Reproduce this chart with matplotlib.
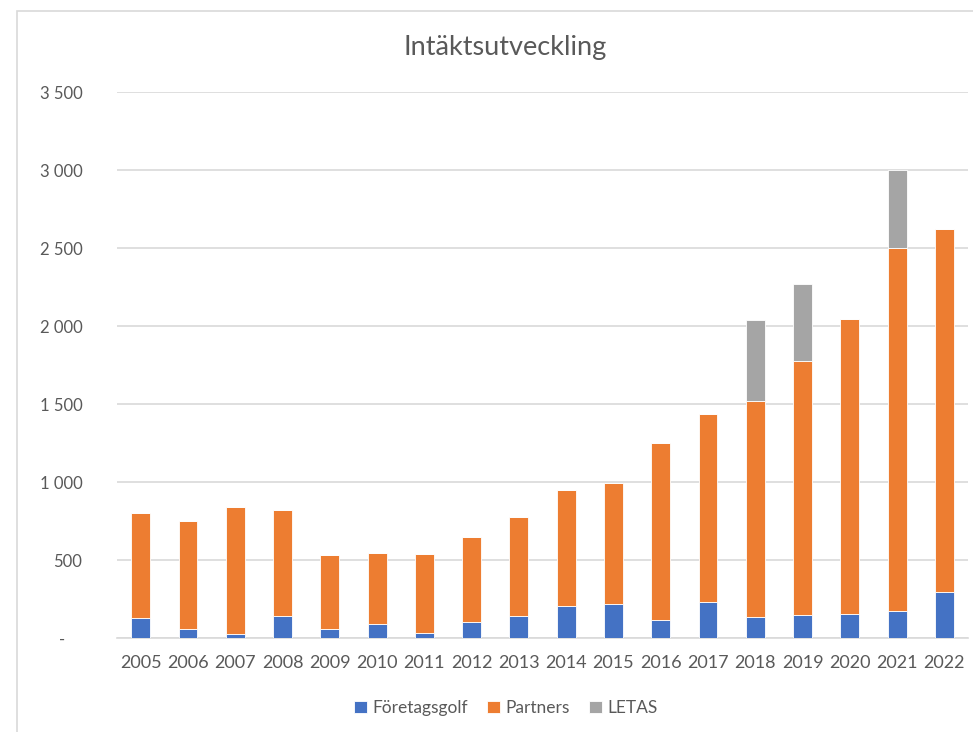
import matplotlib.pyplot as plt
from matplotlib.patches import Rectangle
import numpy as np

plt.rcParams['font.family'] = ['Lato', 'DejaVu Sans']

# Data
years = ['2005', '2006', '2007', '2008', '2009', '2010', '2011', '2012', '2013',
         '2014', '2015', '2016', '2017', '2018', '2019', '2020', '2021', '2022']
foretagsgolf = [126, 58, 26, 141, 58, 92, 32, 100, 141,
                205, 220, 113, 229, 133, 146, 154, 173, 295]
totals_fp = [799, 750, 838, 818, 530, 542, 536, 645, 776,
             947, 994, 1248, 1438, 1519, 1774, 2047, 2500, 2620]
partners = [t - f for t, f in zip(totals_fp, foretagsgolf)]
letas = [0, 0, 0, 0, 0, 0, 0, 0, 0, 0, 0, 0, 0, 517, 497, 0, 498, 0]

yticks = [0, 500, 1000, 1500, 2000, 2500, 3000, 3500]
ytick_labels = ['-    ', '500', '1 000', '1 500', '2 000', '2 500', '3 000', '3 500']

c_blue = '#4472C4'
c_orange = '#ED7D31'
c_gray = '#A5A5A5'
txt = '#595959'

fig = plt.figure(figsize=(9.73, 7.32), dpi=100)
ax = fig.add_axes([0.1203, 0.1284, 0.8746, 0.7459])

x = np.arange(len(years))
w = 0.4
fp = np.array(foretagsgolf)
pa = np.array(partners)
le = np.array(letas)
ax.bar(x, fp, w, color=c_blue, edgecolor='white', linewidth=0.6, label='Företagsgolf', zorder=3)
ax.bar(x, pa, w, bottom=fp, color=c_orange, edgecolor='white', linewidth=0.6, label='Partners', zorder=3)
ax.bar(x, le, w, bottom=fp + pa, color=c_gray, edgecolor='white', linewidth=0.6, label='LETAS', zorder=3)

ax.set_xlim(-0.5, len(years) - 0.5)
ax.set_ylim(0, 3500)
ax.set_yticks(yticks)
ax.set_yticklabels(ytick_labels)
ax.set_xticks(x)
ax.set_xticklabels(years)
ax.grid(axis='y', color='#D9D9D9', linewidth=1.2, zorder=0)
for s in ['top', 'right', 'left']:
    ax.spines[s].set_visible(False)
ax.spines['bottom'].set_color('#D9D9D9')
ax.spines['bottom'].set_linewidth(1.2)
ax.tick_params(axis='y', length=0, pad=25, labelsize=12, labelcolor=txt)
ax.tick_params(axis='x', length=0, pad=12, labelsize=13, labelcolor=txt)

fig.text(0.519, 0.935, 'Intäktsutveckling', ha='center', va='center', fontsize=19.5, color=txt)

ax.legend(loc='center', bbox_to_anchor=(0.52, 1 - 708 / 732), bbox_transform=fig.transFigure,
          ncol=3, frameon=False, fontsize=12.5, handlelength=0.75, handleheight=0.75,
          handletextpad=0.3, columnspacing=1.1, labelcolor=txt)

# chart frame (left and top edges visible in the picture)
fig.add_artist(Rectangle((17 / 973, -0.05), 1.1, 1 - 11 / 732 + 0.05, transform=fig.transFigure,
                         fill=False, edgecolor='#D9D9D9', linewidth=1.2))

plt.savefig('out.png', dpi=100)
